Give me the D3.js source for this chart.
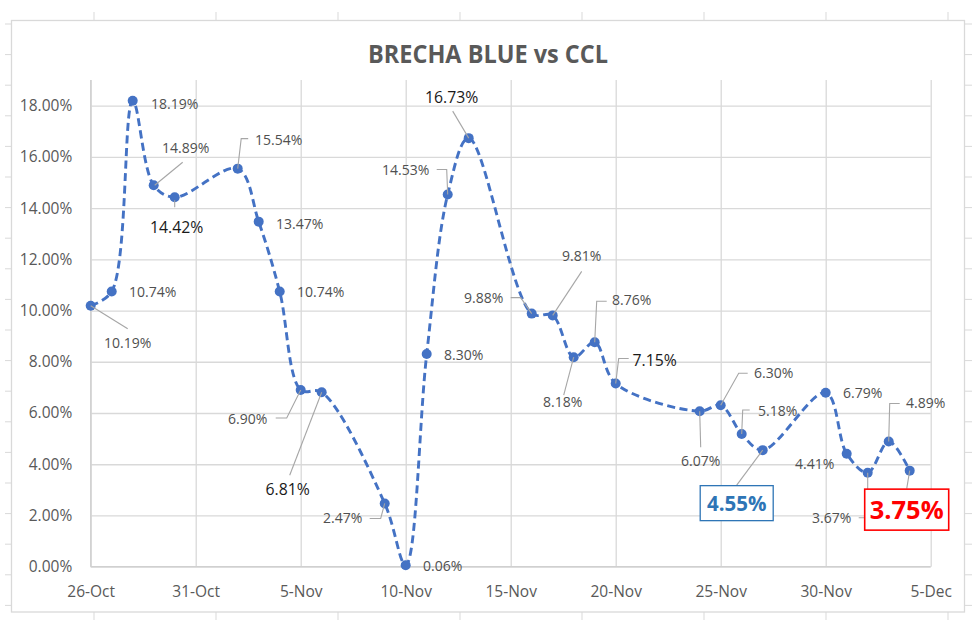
<!DOCTYPE html>
<html><head><meta charset="utf-8">
<script src="https://cdn.jsdelivr.net/npm/d3@7"></script>
<style>
body{margin:0;background:#fff}
svg{display:block;font-family:"Open Sans","Noto Sans",sans-serif}
</style>
</head><body>
<svg id="chart" width="980" height="624"></svg>
<script>
// ---------------- data ----------------
const chartTitle = "BRECHA BLUE vs CCL";
const dates = ["26-Oct","27-Oct","28-Oct","29-Oct","30-Oct","2-Nov","3-Nov","4-Nov","5-Nov","6-Nov",
  "9-Nov","10-Nov","11-Nov","12-Nov","13-Nov","16-Nov","17-Nov","18-Nov","19-Nov","20-Nov",
  "24-Nov","25-Nov","26-Nov","27-Nov","30-Nov","1-Dec","2-Dec","3-Dec","4-Dec"];
const values = [10.19,10.74,18.19,14.89,14.42,15.54,13.47,10.74,6.90,6.81,
  2.47,0.06,8.30,14.53,16.73,9.88,9.81,8.18,8.76,7.15,
  6.07,6.30,5.18,4.55,6.79,4.41,3.67,4.89,3.75];
const xTickLabels = ["26-Oct","31-Oct","5-Nov","10-Nov","15-Nov","20-Nov","25-Nov","30-Nov","5-Dec"];
const yTickValues = [0,2,4,6,8,10,12,14,16,18];

// label layout: [style, dx, dy, leader polyline relative to point]
const labelLayout = [
 ["s",37,37,[[0,0],[37,23]]],
 ["s",41,0,null],
 ["s",42,3,null],
 ["s",32,-37,[[1,0],[29,-23]]],
 ["b",2,30,[[0,3],[0,10]]],
 ["s",41,-29,[[0,0],[3.5,-30],[10.5,-30]]],
 ["s",41,2,null],
 ["s",41,0,null],
 ["s",-53,29,[[0,0],[-14,28],[-25,28]]],
 ["b",-34,97,[[0,0],[-32,83]]],
 ["s",-42,15,[[0,0],[-4,15],[-15,15]]],
 ["s",37,1,null],
 ["s",37,1,null],
 ["s",-42,-25,[[0,0],[-1,-25],[-11,-25]]],
 ["b",-17,-41,[[0,0],[-16,-27]]],
 ["s",-48,-16,[[0,0],[-11,-16],[-21,-16]]],
 ["s",29,-59,[[0,0],[29,-44]]],
 ["s",-11,45,[[0,0],[-10,38]]],
 ["s",37,-42,[[0,0],[2,-41],[12,-41]]],
 ["b",39,-23,[[0,0],[3,-25],[13,-25]]],
 ["s",1,50,[[0,0],[1,36]]],
 ["s",53,-32,[[0,0],[18,-32],[27,-32]]],
 ["s",36,-23,[[0,0],[1,-24],[8,-24]]],
 ["blue",-26,53,[[0,0],[-26,35]]],
 ["s",37,0,null],
 ["s",-32,10,null],
 ["s",-36,45,[[0,0],[0,45],[-9,45]]],
 ["s",37,-38,[[0,0],[1,-38],[11,-38]]],
 ["red",-3,39,[[0,0],[-3,18]]]
];

// ---------------- setup ----------------
const svg = d3.select("#chart");
const parse = s => d3.utcParse("%d-%b-%Y")(s + "-2021");
const data = dates.map((d,i)=>({date:parse(d), v:values[i]}));

const plot = {left:90.7, right:930.7, top:80, bottom:566.7};
const x = d3.scaleUtc().domain([parse(xTickLabels[0]), parse(xTickLabels[xTickLabels.length-1])]).range([plot.left, plot.right]);
const y = d3.scaleLinear().domain([0,19]).range([plot.bottom, plot.top]);

const gridCol = "#d9d9d9";

// spreadsheet edge marks outside the chart box
const marks = svg.append("g").attr("stroke", gridCol).attr("stroke-width",1);
for (let k=0;k<20;k++){
  const yy = 24 + 30.6*k;
  marks.append("line").attr("x1",5).attr("x2",11).attr("y1",yy).attr("y2",yy);
  marks.append("line").attr("x1",965).attr("x2",972).attr("y1",yy).attr("y2",yy);
}
for (let k=0;k<8;k++){
  const xx = 94 + 122*k;
  marks.append("line").attr("x1",xx).attr("x2",xx).attr("y1",12).attr("y2",20);
  marks.append("line").attr("x1",xx).attr("x2",xx).attr("y1",612).attr("y2",620);
}
// chart border
svg.append("rect").attr("x",11.5).attr("y",20.5).attr("width",953).attr("height",591.5)
  .attr("fill","#fff").attr("stroke",gridCol).attr("stroke-width",1.3);

// title
svg.append("text").attr("x",488).attr("y",63).attr("text-anchor","middle")
  .attr("font-size",25).attr("font-weight","bold").attr("fill","#595959")
  .attr("textLength",240).attr("lengthAdjust","spacingAndGlyphs").text(chartTitle);

// y axis + horizontal gridlines
const yAxis = svg.append("g").attr("transform",`translate(${plot.left},0)`)
  .call(d3.axisLeft(y).tickValues(yTickValues).tickSize(-(plot.right-plot.left)).tickPadding(18.5)
    .tickFormat(v => d3.format(".2f")(v) + "%"));
yAxis.select(".domain").remove();
yAxis.selectAll("line").attr("stroke",gridCol).attr("stroke-width",1.3);
yAxis.selectAll("text").attr("font-size",15.5).attr("fill","#595959").attr("font-family","Open Sans");

// x axis + vertical gridlines
const xAxis = svg.append("g").attr("transform",`translate(0,${plot.bottom})`)
  .call(d3.axisBottom(x).tickValues(xTickLabels.map(parse)).tickSize(-(plot.bottom-plot.top)).tickPadding(19)
    .tickFormat(d3.utcFormat("%-d-%b")));
xAxis.select(".domain").remove();
xAxis.selectAll("line").attr("stroke",gridCol).attr("stroke-width",1.3);
xAxis.selectAll("text").attr("font-size",15.5).attr("fill","#595959").attr("font-family","Open Sans");

// axis lines
svg.append("line").attr("x1",plot.left).attr("x2",plot.left).attr("y1",plot.top).attr("y2",plot.bottom)
  .attr("stroke","#d0d0d0").attr("stroke-width",1.3);
svg.append("line").attr("x1",plot.left).attr("x2",plot.right).attr("y1",plot.bottom).attr("y2",plot.bottom)
  .attr("stroke","#d0d0d0").attr("stroke-width",1.3);

// series line (smoothed)
const line = d3.line().x(d=>x(d.date)).y(d=>y(d.v)).curve(d3.curveCatmullRom.alpha(0.5));
svg.append("path").datum(data).attr("d",line).attr("fill","none")
  .attr("stroke","#4472C4").attr("stroke-width",2.9).attr("stroke-dasharray","8,4.5");

// markers
svg.append("g").selectAll("circle").data(data).join("circle")
  .attr("cx",d=>x(d.date)).attr("cy",d=>y(d.v)).attr("r",5)
  .attr("fill","#4472C4");

// leader lines
const leaders = svg.append("g").attr("fill","none").attr("stroke","#a6a6a6").attr("stroke-width",1.1);
data.forEach((d,i)=>{
  const L = labelLayout[i][3];
  if (!L) return;
  const px = x(d.date), py = y(d.v);
  leaders.append("path").attr("d", d3.line()(L.map(p=>[px+p[0], py+p[1]])));
});

// data labels
const labels = svg.append("g");
data.forEach((d,i)=>{
  const [style, dx, dy] = labelLayout[i];
  const cx = x(d.date)+dx, cy = y(d.v)+dy;
  const txt = d.v.toFixed(2) + "%";
  if (style === "blue" || style === "red") {
    const w = style==="blue" ? 73 : 84, h = style==="blue" ? 35 : 41;
    labels.append("rect").attr("x",cx-w/2).attr("y",cy-h/2).attr("width",w).attr("height",h)
      .attr("fill","#fff").attr("stroke", style==="blue" ? "#2E75B6" : "#FF0000")
      .attr("stroke-width", style==="blue" ? 1.3 : 1.6);
    labels.append("text").attr("x",cx).attr("y",cy).attr("dy","0.36em").attr("text-anchor","middle")
      .attr("font-weight","bold").attr("font-size", style==="blue" ? 20.5 : 25.5)
      .attr("fill", style==="blue" ? "#2E75B6" : "#FF0000").text(txt);
  } else {
    labels.append("text").attr("x",cx).attr("y",cy).attr("dy","0.36em").attr("text-anchor","middle")
      .attr("font-size", style==="b" ? 15.8 : 14)
      .attr("fill", style==="b" ? "#1a1a1a" : "#505050").text(txt);
  }
});
</script>
</body></html>
